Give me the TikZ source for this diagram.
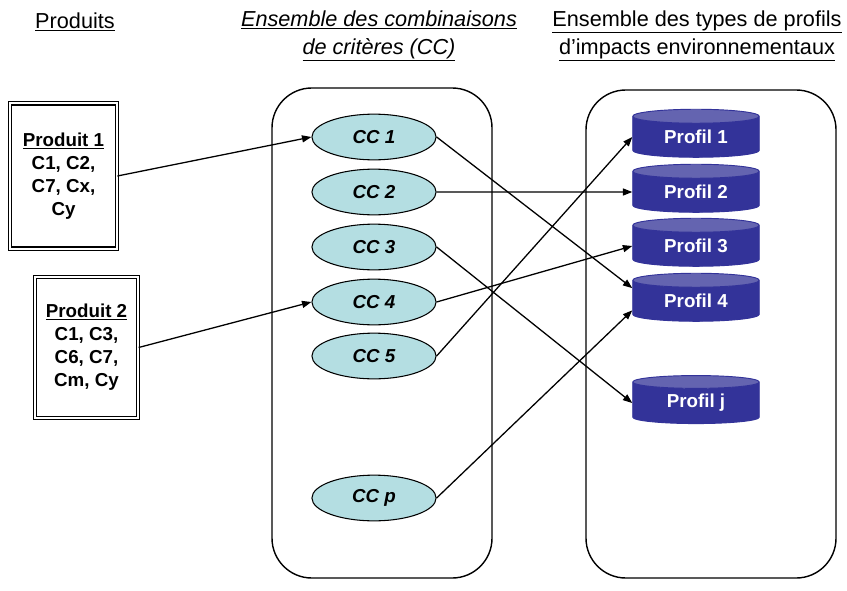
\documentclass[tikz,border=0pt]{standalone}
\usepackage{fontspec}
\setmainfont{Liberation Sans}
\usetikzlibrary{shapes.geometric,arrows.meta}
\definecolor{ccfill}{RGB}{180,222,226}
\definecolor{profbody}{RGB}{51,51,153}
\definecolor{proftop}{RGB}{100,100,176}

\begin{document}
\begin{tikzpicture}[x=0.03cm,y=-0.03cm,line width=0.8pt,
  head/.style={font=\fontsize{18.5}{24}\selectfont,align=center,inner sep=0pt},
  prod/.style={draw=black,double,double distance=1.8pt,line width=1pt,inner sep=0pt,align=center,
    font=\fontsize{16}{19.6}\selectfont\bfseries},
  cc/.style={ellipse,draw=black,fill=ccfill,line width=0.9pt,minimum width=106pt,minimum height=39pt,inner sep=0pt,
    font=\fontsize{16}{19}\selectfont\bfseries\itshape},
  profil/.style={cylinder,shape border rotate=90,aspect=0.22,draw=profbody,cylinder uses custom fill,
    cylinder body fill=profbody,cylinder end fill=proftop,minimum width=108pt,minimum height=41pt,
    inner sep=0pt,text=white,font=\fontsize{16}{19}\selectfont\bfseries},
  link/.style={-{Triangle[length=8pt,width=6pt]},line width=1.1pt}]
\useasboundingbox (0,0) rectangle (847,590);

% headers
\node[head] (HProd) at (75,22) {\underline{Produits}};
\node[head,font=\fontsize{18.5}{24}\selectfont\itshape] (HComb) at (379,36) {\underline{Ensemble des combinaisons}\\\underline{de critères (CC)}};
\node[head] (HProf) at (697,36) {\underline{Ensemble des types de profils}\\\underline{d’impacts environnementaux}};

% sets
\draw[line width=1.2pt,rounded corners=34pt] (272,88) rectangle (492,578);
\draw[line width=1.2pt,rounded corners=34pt] (586,90) rectangle (836,578);

% products
\node[prod,minimum width=91pt,minimum height=124pt] (Prod1) at (63.5,176) {\underline{Produit 1}\\C1, C2,\\C7, Cx,\\Cy};
\node[prod,minimum width=88pt,minimum height=120pt] (Prod2) at (86.5,347.5) {\underline{Produit 2}\\C1, C3,\\C6, C7,\\Cm, Cy};

% combinations
\node[cc] (CC1) at (374,137) {CC 1};
\node[cc] (CC2) at (374,192) {CC 2};
\node[cc] (CC3) at (374,247) {CC 3};
\node[cc] (CC4) at (374,302) {CC 4};
\node[cc] (CC5) at (374,356) {CC 5};
\node[cc] (CCp) at (374,498) {CC p};

% profiles
\node[profil] (Profil1) at (696,137) {Profil 1};
\node[profil] (Profil2) at (696,192) {Profil 2};
\node[profil] (Profil3) at (696,246) {Profil 3};
\node[profil] (Profil4) at (696,301) {Profil 4};
\node[profil] (Profilj) at (696,403) {Profil j};

% links
\draw[link] (Prod1.east) -- (CC1.west);
\draw[link] (Prod2.east) -- (CC4.west);
\draw[link] (CC1.east) -- ([yshift=11pt]Profil4.west);
\draw[link] (CC2.east) -- (Profil2.west);
\draw[link] (CC3.east) -- (Profilj.west);
\draw[link] (CC4.east) -- (Profil3.west);
\draw[link] (CC5.east) -- (Profil1.west);
\draw[link] (CCp.east) -- ([yshift=-8pt]Profil4.west);
\end{tikzpicture}
\end{document}
